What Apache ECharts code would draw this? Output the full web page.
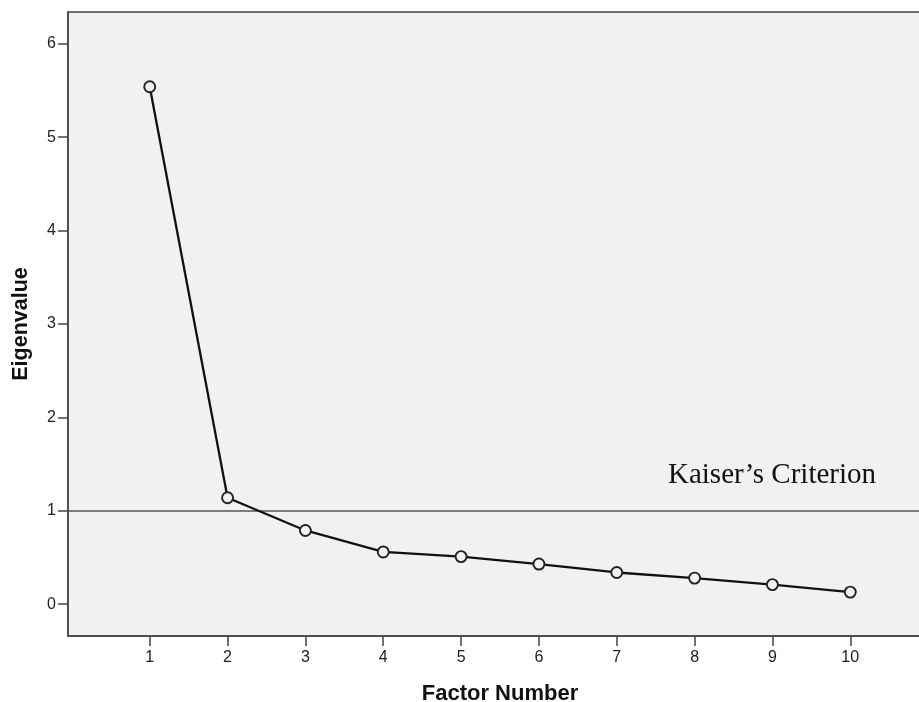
<!DOCTYPE html>
<html>
<head>
<meta charset="utf-8">
<script src="https://cdn.jsdelivr.net/npm/echarts@6/dist/echarts.min.js"></script>
<style>html,body{margin:0;padding:0;background:#fff;}#c{width:919px;height:702px;}</style>
</head>
<body>
<div id="c"></div>
<script>
const factors = [1, 2, 3, 4, 5, 6, 7, 8, 9, 10];
const eigenvalues = [5.54, 1.14, 0.79, 0.56, 0.51, 0.43, 0.34, 0.28, 0.21, 0.13];
const yTicks = [0, 1, 2, 3, 4, 5, 6];
const kaiserValue = 1;
const kaiserLabel = 'Kaiser\u2019s Criterion';

const chart = echarts.init(document.getElementById('c'));
chart.setOption({
  animation: false,
  backgroundColor: '#ffffff',
  grid: {
    left: 68, top: 12, right: -13, bottom: 66,
    outerBoundsMode: 'none', containLabel: false,
    show: true, backgroundColor: '#f1f1f1', borderColor: '#444', borderWidth: 1.5
  },
  xAxis: {
    type: 'value', min: -0.05, max: 11.05,
    name: 'Factor Number', nameLocation: 'middle', nameGap: 47,
    nameTextStyle: { fontFamily: 'Liberation Sans, Arial', fontWeight: 'bold', fontSize: 22, color: '#111' },
    axisLine: { show: true, onZero: false, lineStyle: { color: '#444', width: 1.5 } },
    axisTick: { show: true, length: 10, customValues: factors, lineStyle: { color: '#444', width: 1.5 } },
    axisLabel: { customValues: factors, margin: 14, fontFamily: 'Liberation Sans, Arial', fontSize: 16, color: '#222' },
    splitLine: { show: false }
  },
  yAxis: {
    type: 'value', min: -0.34, max: 6.34,
    name: 'Eigenvalue', nameLocation: 'middle', nameGap: 36, nameRotate: 90,
    nameTextStyle: { fontFamily: 'Liberation Sans, Arial', fontWeight: 'bold', fontSize: 21.5, color: '#111' },
    axisLine: { show: true, onZero: false, lineStyle: { color: '#444', width: 1.5 } },
    axisTick: { show: true, length: 10, customValues: yTicks, lineStyle: { color: '#444', width: 1.5 } },
    axisLabel: { customValues: yTicks, margin: 12, fontFamily: 'Liberation Sans, Arial', fontSize: 16, color: '#222' },
    splitLine: { show: false }
  },
  series: [{
    type: 'line',
    data: factors.map((f, i) => [f, eigenvalues[i]]),
    symbol: 'circle', symbolSize: 11,
    itemStyle: { color: '#f1f1f1', borderColor: '#222', borderWidth: 1.9 },
    lineStyle: { color: '#111', width: 2.3 },
    z: 3,
    markLine: {
      silent: true, symbol: ['none', 'none'],
      label: { show: false },
      lineStyle: { color: '#555', width: 1.5, type: 'solid' },
      data: [{ yAxis: kaiserValue }],
      z: 2
    }
  }],
  graphic: [{
    type: 'text', left: 668, top: 461,
    style: { text: kaiserLabel, font: '29px "Liberation Serif", "Times New Roman", serif', fill: '#111' }
  }]
});
</script>
</body>
</html>
